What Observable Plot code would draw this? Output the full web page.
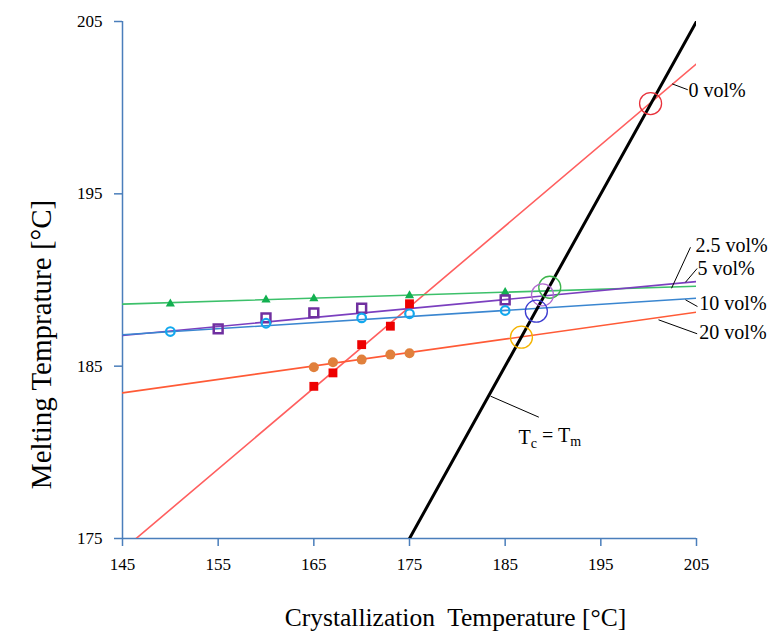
<!DOCTYPE html>
<html><head><meta charset="utf-8">
<script src="https://cdn.jsdelivr.net/npm/d3@7"></script>
<script src="https://cdn.jsdelivr.net/npm/@observablehq/plot@0.6"></script>
<style>body{margin:0;background:#fff}</style>
</head><body><div id="chart"></div>
<script>
// Tick values
const xTicks = [145, 155, 165, 175, 185, 195, 205];
const yTicks = [175, 185, 195, 205];

// Measured points (crystallization T, melting T)
const s0x = [165, 167, 170, 173, 175];
const s0y = [183.83, 184.61, 186.25, 187.32, 188.62];
const s25x = [150, 160, 165, 175, 185];
const s25y = [188.62, 188.85, 188.92, 189.10, 189.29];
const s5x = [155, 160, 165, 170, 185];
const s5y = [187.16, 187.80, 188.09, 188.36, 188.85];
const s10x = [150, 160, 170, 175, 185];
const s10y = [187.01, 187.49, 187.80, 188.04, 188.23];
const s20x = [165, 167, 170, 173, 175];
const s20y = [184.94, 185.23, 185.38, 185.67, 185.75];

// Linear fits: value at Tc = 145 and at Tc = 205
const fitNames = ["0", "2.5", "5", "10", "20"];
const fitAt145 = [174.33, 188.60, 186.78, 186.82, 183.45];
const fitAt205 = [202.54, 189.64, 189.91, 188.94, 188.13];
const fitColors = ["#ff5f5f", "#3cc06a", "#7b3fbf", "#3a86d0", "#ff5a36"];

// Tc = Tm line
const eqLine = [175, 205];

// Equilibrium (Hoffman-Weeks) intersections
const hwX = [200.2, 189.66, 188.9, 188.26, 186.7];
const hwY = [200.24, 189.58, 189.14, 188.19, 186.68];
const hwColors = ["#e8323c", "#3cb44b", "#b06ad0", "#3c3cd0", "#f5b400"];

// Annotation labels and leader lines
const labelText = ["0 vol%", "2.5 vol%", "5 vol%", "10 vol%", "20 vol%", "Tc = Tm"];
const labelX = [204.16, 204.9, 205.1, 205.3, 205.3, 186.4];
const labelY = [201.0, 192.0, 190.67, 188.64, 186.95, 180.88];
const leadX1 = [202.46, 202.39, 203.85, 203.85, 201.03, 183.47];
const leadY1 = [201.38, 189.52, 189.87, 188.85, 187.69, 183.26];
const leadX2 = [204.09, 204.37, 205.07, 205.1, 205.07, 188.52];
const leadY2 = [201.04, 191.90, 190.67, 188.46, 186.88, 182.04];

const pts = (xs, ys) => xs.map((x, i) => ({x, y: ys[i]}));
const fitData = fitNames.flatMap((n, i) => [
  {name: n, x: 145, y: fitAt145[i]},
  {name: n, x: 205, y: fitAt205[i]}
]);
const hw = hwX.map((x, i) => ({x, y: hwY[i], c: hwColors[i]}));
const labels = labelText.map((t, i) => ({t, x: labelX[i], y: labelY[i]}));
const leads = leadX1.map((x1, i) => ({x1, y1: leadY1[i], x2: leadX2[i], y2: leadY2[i]}));

const axisBlue = "#4a7ebb";
const serif = "Liberation Serif";

const chart = Plot.plot({
  width: 771,
  height: 640,
  marginLeft: 122,
  marginRight: 75,
  marginTop: 21,
  marginBottom: 102,
  style: {fontFamily: serif, fontSize: "17px", background: "white", color: "black"},
  x: {domain: [145, 205]},
  y: {domain: [175, 205]},
  color: {domain: fitNames, range: fitColors},
  marks: [
    Plot.ruleX([145], {stroke: axisBlue, strokeWidth: 1.5}),
    Plot.ruleY([175], {stroke: axisBlue, strokeWidth: 1.5}),
    Plot.axisX(xTicks, {tickSize: 8, tickPadding: 11, stroke: axisBlue, strokeWidth: 1.5, fill: "black", fontSize: 17, label: null}),
    Plot.axisY(yTicks, {tickSize: 8, tickPadding: 12, stroke: axisBlue, strokeWidth: 1.5, fill: "black", fontSize: 17, label: null}),
    Plot.line(fitData, {x: "x", y: "y", z: "name", stroke: "name", strokeWidth: 1.6, clip: true}),
    Plot.line(eqLine, {x: d => d, y: d => d, stroke: "black", strokeWidth: 3, clip: true}),
    Plot.dot(pts(s25x, s25y), {x: "x", y: "y", symbol: "triangle", fill: "#12b050", r: 3.4}),
    Plot.dot(pts(s5x, s5y), {x: "x", y: "y", symbol: "square", fill: "none", stroke: "#7030a0", strokeWidth: 2.5, r: 5}),
    Plot.dot(pts(s10x, s10y), {x: "x", y: "y", symbol: "circle", fill: "none", stroke: "#12a8ee", strokeWidth: 2.2, r: 4.3}),
    Plot.dot(pts(s20x, s20y), {x: "x", y: "y", symbol: "circle", fill: "#e0803c", r: 5}),
    Plot.dot(pts(s0x, s0y), {x: "x", y: "y", symbol: "square", fill: "#ee0000", r: 5}),
    Plot.dot(hw, {x: "x", y: "y", r: 11, stroke: "c", fill: "none", strokeWidth: 1.3}),
    Plot.link(leads, {x1: "x1", y1: "y1", x2: "x2", y2: "y2", stroke: "black", strokeWidth: 1}),
    Plot.text(labels, {x: "x", y: "y", text: "t", textAnchor: "start", fontSize: 20, fill: "black"}),
    Plot.text(["Crystallization\u00a0 Temperature [°C]"], {frameAnchor: "bottom", dx: 46, dy: 87, fontSize: 25.5, fill: "black"}),
    Plot.text(["Melting Temprature [°C]"], {frameAnchor: "left", textAnchor: "middle", rotate: -90, dx: -81, dy: 64.5, fontSize: 29, fill: "black"})
  ]
});

// subscripts for Tc = Tm
d3.select(chart).selectAll("text").each(function () {
  if (this.textContent === "Tc = Tm") {
    const t = d3.select(this);
    t.text(null);
    t.append("tspan").text("T");
    t.append("tspan").attr("dy", "0.3em").attr("font-size", "0.7em").text("c");
    t.append("tspan").attr("dy", "-0.3em").text(" = T");
    t.append("tspan").attr("dy", "0.3em").attr("font-size", "0.7em").text("m");
  }
});

document.getElementById("chart").appendChild(chart);
</script>
</body></html>
